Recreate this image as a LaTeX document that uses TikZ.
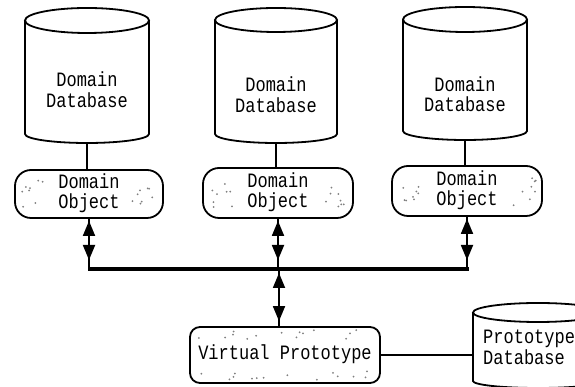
\documentclass[tikz,border=0pt]{standalone}
\usepackage{fontspec}
\usepackage{graphicx}
\newfontfamily\pixfont{Liberation Mono}
\usetikzlibrary{arrows.meta,calc}
% vertically stretched text block
\newcommand\vt[2][c]{\scalebox{1}[1.2]{\begin{tabular}{@{}#1@{}}#2\end{tabular}}}
% #1 name, #2 cx, #3 rx, #4 top Y, #5 ry of top ellipse, #6 side-bottom Y, #7 sag of bottom arc
\newcommand\dbcyl[7]{%
  \draw[outline, fill=white] ($(#2,#4)+(-#3,-#5)$) -- ($(#2,#6)+(-#3,0)$)
     arc[start angle=180,end angle=360,x radius=#3,y radius=#7] -- ($(#2,#4)+(#3,-#5)$);
  \draw[outline] ($(#2,#4)+(0,-#5)$) ellipse[x radius=#3, y radius=#5];
  \node[body, minimum width={2*#3*1pt}, minimum height={(#4-#6+#7)*1pt}] (#1) at (#2,{(#4+#6-#7)/2}) {};
}
% stipple dots at both ends of a rounded box
\newcommand\stipends[2]{%
  \foreach \k in {1,...,#2}{%
    \pgfmathsetmacro\ux{7+26*rnd}\pgfmathsetmacro\uy{0.2+0.6*rnd}%
    \pgfmathsetmacro\vx{7+26*rnd}\pgfmathsetmacro\vy{0.2+0.6*rnd}%
    \fill[dot] ($(#1.south west)!\uy!(#1.north west)+(\ux,0)$) circle (1pt);
    \fill[dot] ($(#1.south east)!\vy!(#1.north east)+(-\vx,0)$) circle (1pt);
  }%
}
% stipple dots in top and bottom bands of a rounded box
\newcommand\stipbands[2]{%
  \foreach \k in {1,...,#2}{%
    \pgfmathsetmacro\ux{0.05+0.9*rnd}\pgfmathsetmacro\uy{4+9*rnd}%
    \pgfmathsetmacro\vx{0.05+0.9*rnd}\pgfmathsetmacro\vy{4+9*rnd}%
    \fill[dot] ($(#1.north west)!\ux!(#1.north east)+(0,-\uy)$) circle (1pt);
    \fill[dot] ($(#1.south west)!\vx!(#1.south east)+(0,\vy)$) circle (1pt);
  }%
}
\tikzset{
  bighead/.tip={Triangle[length=15pt,width=12pt]}
}
\begin{document}
\begin{tikzpicture}[x=1pt,y=1pt,
  outline/.style={line width=1.8pt},
  txt/.style={font=\pixfont\fontsize{17}{16.5}\selectfont, inner sep=0pt},
  body/.style={inner sep=0pt, draw=none},
  objbox/.style={draw, line width=1.8pt, rounded corners=16pt, fill=white, inner sep=0pt,
     font=\pixfont\fontsize{17}{16.5}\selectfont},
  link/.style={line width=1.8pt},
  dblarrow/.style={line width=1.8pt, bighead-bighead},
  bus/.style={line width=4.5pt},
  dot/.style={fill=black!50, draw=none}]
\clip (0,0) rectangle (575,387);
\pgfmathsetseed{11}

% domain databases
\dbcyl{db1}{87}{62}{379}{12.5}{253}{9}
\dbcyl{db2}{276}{61}{379}{12}{253}{9}
\dbcyl{db3}{465}{62}{380}{12.5}{256}{9}
\node[txt] (t1) at (87,294.5) {\vt{Domain\\Database}};
\node[txt] (t2) at (276,289.5) {\vt{Domain\\Database}};
\node[txt] (t3) at (465,290) {\vt{Domain\\Database}};

% domain objects
\node[objbox, minimum width=148pt, minimum height=48pt] (obj1) at (89,193) {\vt{Domain\\Object}};
\node[objbox, minimum width=150pt, minimum height=50pt] (obj2) at (278,194) {\vt{Domain\\Object}};
\node[objbox, minimum width=150pt, minimum height=50pt] (obj3) at (467,196) {\vt{Domain\\Object}};
\stipends{obj1}{8}
\stipends{obj2}{8}
\stipends{obj3}{8}

\draw[link] (db1.south) -- (db1.south |- obj1.north);
\draw[link] (db2.south) -- (db2.south |- obj2.north);
\draw[link] (db3.south) -- (db3.south |- obj3.north);

% bus
\coordinate (busL) at (88,118);
\coordinate (busM) at (279,118);
\coordinate (busR) at (469,118);
\draw[bus] (busL) -- (busR);

\draw[link] (obj1.south) -- (obj1.south |- busL);
\draw[link] (obj2.south) -- (obj2.south |- busL);
\draw[link] (obj3.south) -- (obj3.south |- busL);
\draw[dblarrow, shorten <=2pt, shorten >=9pt] (obj1.south) -- (obj1.south |- busL);
\draw[dblarrow, shorten <=2pt, shorten >=9pt] (obj2.south) -- (obj2.south |- busL);
\draw[dblarrow, shorten <=2pt, shorten >=9pt] (obj3.south) -- (obj3.south |- busL);

% virtual prototype
\node[objbox, rounded corners=10pt, minimum width=190pt, minimum height=56pt] (vp) at (285,32) {\vt{Virtual Prototype}};
\stipbands{vp}{14}
\draw[link] (busM) -- (busM |- vp.north);
\draw[dblarrow, shorten <=4pt, shorten >=5pt] (busM) -- (busM |- vp.north);

% prototype database
\dbcyl{pdb}{538}{65}{84}{9.5}{6}{7}
\node[txt, anchor=west] (tp) at (483,37) {\vt[l]{Prototype\\Database}};
\draw[link] (vp.east) -- (vp.east -| pdb.west);
\end{tikzpicture}
\end{document}
